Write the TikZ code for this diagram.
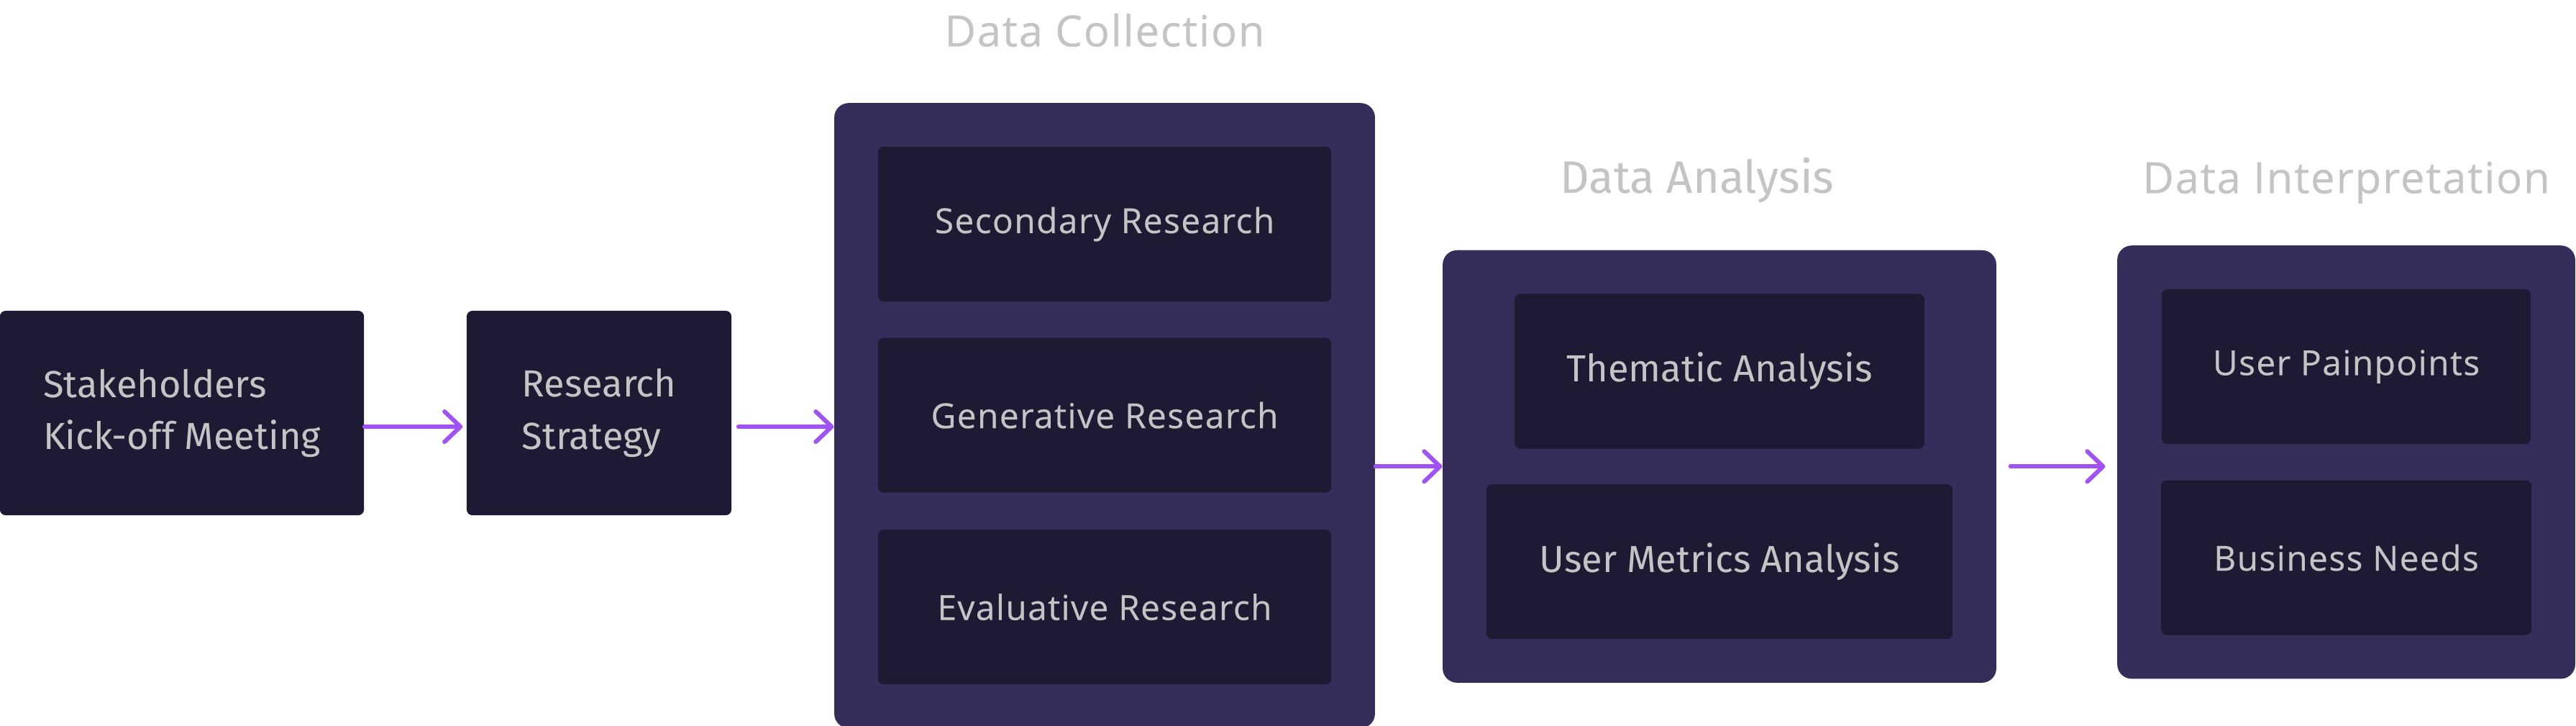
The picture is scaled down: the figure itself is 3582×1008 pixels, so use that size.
\documentclass[tikz,border=0pt]{standalone}
\usepackage{fontspec}
\usepackage{tikz}
\usetikzlibrary{arrows.meta, positioning, fit, backgrounds}
\usepackage{xcolor}

\newfontfamily\plexfont{Fira Sans}
\newfontfamily\worksfont[LetterSpace=3, FakeBold=0.4]{Open Sans}

\definecolor{groupfill}{HTML}{352E5A}
\definecolor{taskfill}{HTML}{1D1A33}
\definecolor{labelgrey}{HTML}{C4C4C4}
\definecolor{flowviolet}{HTML}{A052F5}

\tikzset{
	groupbox/.style={fill=groupfill, rounded corners=0.2cm, inner sep=0.6cm},
	taskbox/.style={fill=taskfill, rounded corners=0.08cm, inner sep=0pt, text=labelgrey,
		minimum height=2.15cm},
	plexlabel/.style={font=\plexfont\fontsize{14.9}{20.5}\selectfont},
	workslabel/.style={font=\worksfont\fontsize{13.6}{16}\selectfont},
	phasetitle/.style={text=labelgrey, anchor=base},
	flow/.style={draw=flowviolet, line width=0.06cm, line cap=round,
		-{Straight Barb[length=0.22cm, width=0.42cm, line cap=round, line join=round]}},
}

\begin{document}
\begin{tikzpicture}[x=0.01cm, y=-0.01cm]
			\useasboundingbox (0,0) rectangle (3582,1008);
			
			% --- Start of the process ---
			\node[taskbox, plexlabel, align=left, minimum width=5.06cm, minimum height=2.84cm]
				(kickoff) at (253,574) {Stakeholders\\Kick-off Meeting};
			\node[taskbox, plexlabel, align=left, minimum width=3.68cm, minimum height=2.84cm]
				(strategy) at (833,574) {Research\\Strategy};
			
			% --- Data collection ---
			\node[taskbox, workslabel, minimum width=6.3cm] (secondary) at (1536,311.5) {Secondary Research};
			\node[taskbox, workslabel, minimum width=6.3cm, below=0.49cm of secondary] (generative) {Generative Research};
			\node[taskbox, workslabel, minimum width=6.3cm, below=0.5cm of generative] (evaluative) {Evaluative Research};
			
			% --- Data analysis ---
			\node[taskbox, plexlabel, minimum width=5.7cm] (thematic) at (2391,516) {Thematic Analysis};
			\node[taskbox, plexlabel, minimum width=6.48cm, below=0.48cm of thematic] (metrics) {User Metrics Analysis};
			
			% --- Data interpretation ---
			\node[taskbox, workslabel, minimum width=5.13cm] (painpoints) at (3262.5,509.5) {User Painpoints};
			\node[taskbox, workslabel, minimum width=5.15cm, below=0.49cm of painpoints] (needs) {Business Needs};
			
			% --- Group frames behind the tasks ---
			\begin{scope}[on background layer]
				\node[groupbox, fit=(secondary) (generative) (evaluative)] (collection) {};
				\node[groupbox, fit=(thematic) (metrics)] (analysis) {};
				\node[groupbox, fit=(painpoints) (needs)] (interpretation) {};
			\end{scope}
			
			% --- Phase titles ---
			\node[phasetitle, font=\worksfont\fontsize{17}{20}\selectfont]
				at ([yshift=0.78cm]collection.north) {Data Collection};
			\node[phasetitle, font=\plexfont\fontsize{18}{20}\selectfont]
				at ([yshift=0.78cm, xshift=-0.31cm]analysis.north) {Data Analysis};
			\node[phasetitle, font=\worksfont\fontsize{17}{20}\selectfont]
				at ([yshift=0.72cm]interpretation.north) {Data Interpretation};
			
			% --- Arrows ---
			\coordinate (flowrow) at (0,593);
			\draw[flow, shorten >=0.05cm] (kickoff.east |- flowrow) -- (strategy.west |- flowrow);
			\draw[flow, shorten <=0.09cm] (strategy.east |- flowrow) -- (collection.west |- flowrow);
			\draw[flow] (collection.east |- analysis.west) -- (analysis.west);
			\draw[flow, shorten <=0.19cm, shorten >=0.16cm] (analysis.east) -- (interpretation.west |- analysis.east);
			
		\end{tikzpicture}
\end{document}
